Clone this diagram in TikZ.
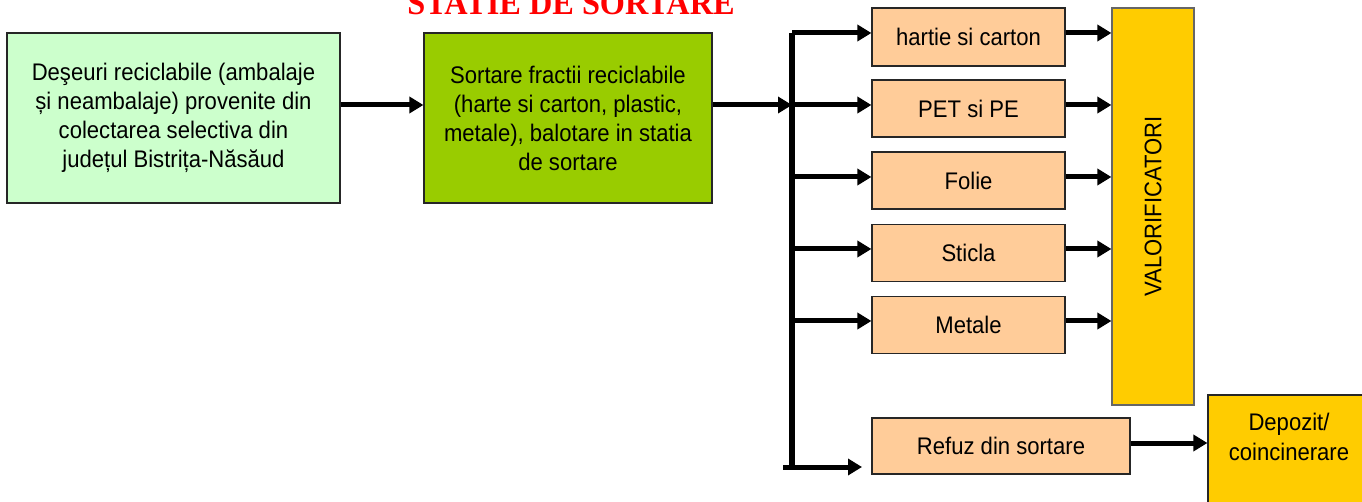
\documentclass[tikz,border=0pt]{standalone}
\usepackage{fontspec}
\setmainfont{Liberation Sans}[FakeStretch=0.92]
\newfontfamily\titlefont{Liberation Serif}[FakeStretch=0.95]
\usetikzlibrary{arrows.meta}
\definecolor{lgreen}{HTML}{CCFFCC}
\definecolor{dgreen}{HTML}{99CC00}
\definecolor{peach}{HTML}{FFCC99}
\definecolor{gold}{HTML}{FFCC00}
\definecolor{ttred}{HTML}{FF0000}
\tikzset{
  box/.style={draw=black!85, line width=1.2pt, align=center, inner sep=0pt,
    font=\fontsize{24}{29}\selectfont},
  flow/.style={line width=5pt, -{Triangle[length=14pt,width=16pt]}},
  bus/.style={line width=5.5pt},
}
\begin{document}
\begin{tikzpicture}[x=1pt,y=-1pt]
\useasboundingbox (0,0) rectangle (1362,502);
% title
\node[anchor=base, text=ttred, font=\titlefont\bfseries\fontsize{34}{38}\selectfont, inner sep=0pt] (title) at (571,15) {STATIE DE SORTARE};
% main boxes
\node[box, fill=lgreen, minimum width=333pt, minimum height=170pt] (src) at (173.5,118)
  {Deşeuri reciclabile (ambalaje\\și neambalaje) provenite din\\colectarea selectiva din\\județul Bistrița-Năsăud};
\node[box, fill=dgreen, minimum width=288pt, minimum height=170pt] (sort) at (568,118)
  {Sortare fractii reciclabile\\(harte si carton, plastic,\\metale), balotare in statia\\de sortare};
% fraction boxes
\node[box, fill=peach, minimum width=193pt, minimum height=58pt] (b1) at (968.5,37) {hartie si carton};
\node[box, fill=peach, minimum width=193pt, minimum height=57pt] (b2) at (968.5,108.5) {PET si PE};
\node[box, fill=peach, minimum width=193pt, minimum height=57pt] (b3) at (968.5,180.5) {Folie};
\node[box, fill=peach, minimum width=193pt, minimum height=57pt] (b4) at (968.5,253) {Sticla};
\node[box, fill=peach, minimum width=193pt, minimum height=57pt] (b5) at (968.5,325) {Metale};
\node[box, fill=peach, minimum width=258pt, minimum height=56pt] (ref) at (1001,446) {Refuz din sortare};
% valorificatori
\node[box, draw=black!60, fill=gold, minimum width=82pt, minimum height=397pt] (val) at (1153,206.5) {};
\node[rotate=90, font=\fontsize{24}{29}\selectfont, inner sep=0pt] (valtxt) at (val.center) {VALORIFICATORI};
% depozit
\node[box, fill=gold, minimum width=162pt, minimum height=170pt] (dep) at (1289,480) {};
\node[align=center, font=\fontsize{24}{30}\selectfont, inner sep=0pt] (deptxt) at (1289,437) {Depozit/\\coincinerare};
% coordinates
\coordinate (bustop) at (792,33);
\coordinate (busbot) at (792,467);
\coordinate (botstart) at (783,467);
\coordinate (botend) at (862,467);
\coordinate (mid) at (792,105);
% connectors
\draw[flow] (src.east |- mid) -- (sort.west |- mid);
\draw[flow] (sort.east |- mid) -- (mid);
\draw[bus] (busbot) -- (bustop);
\draw[flow] (bustop) -- (b1.west |- bustop);
\draw[flow] (mid) -- (b2.west |- mid);
\draw[flow] (792,177) -- (b3.west |- 0,177);
\draw[flow] (792,249) -- (b4.west |- 0,249);
\draw[flow] (792,321) -- (b5.west |- 0,321);
\draw[flow] (botstart) -- (botend);
\draw[flow] (b1.east |- bustop) -- (val.west |- bustop);
\draw[flow] (b2.east |- mid) -- (val.west |- mid);
\draw[flow] (b3.east |- 0,177) -- (val.west |- 0,177);
\draw[flow] (b4.east |- 0,249) -- (val.west |- 0,249);
\draw[flow] (b5.east |- 0,321) -- (val.west |- 0,321);
\draw[flow] (ref.east |- 0,443) -- (dep.west |- 0,443);
\end{tikzpicture}
\end{document}
